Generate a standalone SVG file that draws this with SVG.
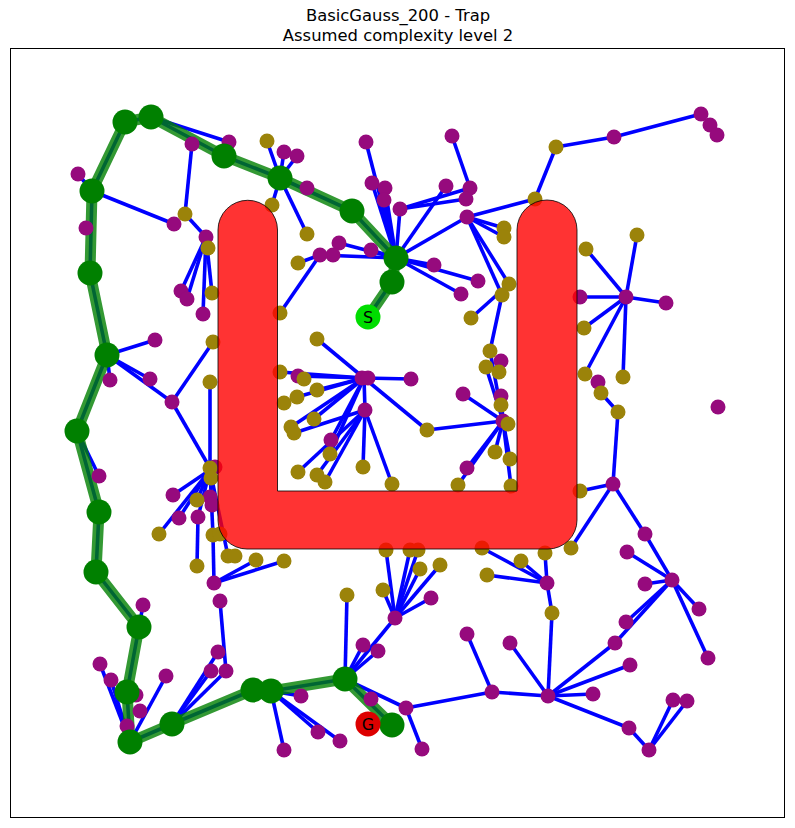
<svg xmlns="http://www.w3.org/2000/svg" width="795" height="828" viewBox="0 0 795 828">
<style>
.t{font-family:"DejaVu Sans",sans-serif;font-size:16.4px;text-anchor:middle;fill:#000}
.e line{stroke:#0000ff;stroke-width:3.6;stroke-linecap:butt}
.pb{fill:none;stroke:#0000ff;stroke-width:3.6;stroke-linejoin:round}
.pg{fill:none;stroke:#008000;stroke-opacity:0.8;stroke-width:11;stroke-linejoin:round;stroke-linecap:butt}
.p{fill:#960a7d}
.o{fill:#9b830a}
.g{fill:#008000}
.s{fill:#00dd00}
.gl{fill:#dd0000}
.lb{font-family:"DejaVu Sans",sans-serif;font-size:16px;text-anchor:middle;fill:#000}
.obs{fill:#ff0000;fill-opacity:0.8;stroke:#000;stroke-opacity:0.8;stroke-width:1}
</style>
<rect x="0" y="0" width="795" height="828" fill="#fff"/>
<text class="t" x="398" y="21">BasicGauss_200 - Trap</text>
<text class="t" x="398" y="41">Assumed complexity level 2</text>
<g id="connectors">
<g class="e">
<line x1="151" y1="117" x2="229" y2="142"/>
<line x1="192" y1="144" x2="185" y2="214"/>
<line x1="92" y1="191" x2="78" y2="174"/>
<line x1="92" y1="191" x2="174" y2="224"/>
<line x1="185" y1="214" x2="206" y2="237"/>
<line x1="206" y1="237" x2="181" y2="291"/>
<line x1="206" y1="237" x2="187" y2="299"/>
<line x1="206" y1="237" x2="212" y2="293"/>
<line x1="206" y1="237" x2="203" y2="314"/>
<line x1="280" y1="178" x2="267" y2="141"/>
<line x1="280" y1="178" x2="284" y2="152"/>
<line x1="280" y1="178" x2="297" y2="156"/>
<line x1="280" y1="178" x2="272" y2="205"/>
<line x1="280" y1="178" x2="307" y2="234"/>
<line x1="396" y1="258" x2="366" y2="142"/>
<line x1="396" y1="258" x2="372" y2="183"/>
<line x1="396" y1="258" x2="385" y2="188"/>
<line x1="396" y1="258" x2="384" y2="200"/>
<line x1="396" y1="258" x2="400" y2="209"/>
<line x1="396" y1="258" x2="446" y2="186"/>
<line x1="396" y1="258" x2="467" y2="217"/>
<line x1="396" y1="258" x2="434" y2="265"/>
<line x1="396" y1="258" x2="478" y2="281"/>
<line x1="396" y1="258" x2="461" y2="294"/>
<line x1="396" y1="258" x2="371" y2="250"/>
<line x1="396" y1="258" x2="339" y2="243"/>
<line x1="396" y1="258" x2="320" y2="255"/>
<line x1="320" y1="255" x2="298" y2="263"/>
<line x1="320" y1="255" x2="280" y2="313"/>
<line x1="452" y1="136" x2="470" y2="188"/>
<line x1="400" y1="209" x2="470" y2="188"/>
<line x1="400" y1="209" x2="466" y2="199"/>
<line x1="467" y1="217" x2="535" y2="199"/>
<line x1="467" y1="217" x2="504" y2="228"/>
<line x1="467" y1="217" x2="504" y2="237"/>
<line x1="467" y1="217" x2="509" y2="284"/>
<line x1="467" y1="217" x2="502" y2="295"/>
<line x1="535" y1="199" x2="556" y2="147"/>
<line x1="556" y1="147" x2="614" y2="137"/>
<line x1="614" y1="137" x2="701" y2="114"/>
<line x1="626" y1="297" x2="586" y2="249"/>
<line x1="626" y1="297" x2="637" y2="235"/>
<line x1="626" y1="297" x2="580" y2="297"/>
<line x1="626" y1="297" x2="666" y2="303"/>
<line x1="626" y1="297" x2="584" y2="328"/>
<line x1="626" y1="297" x2="585" y2="374"/>
<line x1="626" y1="297" x2="623" y2="377"/>
<line x1="601" y1="393" x2="618" y2="412"/>
<line x1="618" y1="412" x2="613" y2="484"/>
<line x1="613" y1="484" x2="580" y2="491"/>
<line x1="613" y1="484" x2="571" y2="548"/>
<line x1="613" y1="484" x2="645" y2="534"/>
<line x1="645" y1="534" x2="672" y2="580"/>
<line x1="627" y1="552" x2="672" y2="580"/>
<line x1="107" y1="355" x2="155" y2="340"/>
<line x1="107" y1="355" x2="110" y2="380"/>
<line x1="107" y1="355" x2="150" y2="379"/>
<line x1="107" y1="355" x2="172" y2="402"/>
<line x1="172" y1="402" x2="213" y2="342"/>
<line x1="172" y1="402" x2="210" y2="468"/>
<line x1="210" y1="382" x2="210" y2="468"/>
<line x1="77" y1="431" x2="99" y2="476"/>
<line x1="210" y1="470" x2="173" y2="495"/>
<line x1="210" y1="470" x2="179" y2="518"/>
<line x1="210" y1="470" x2="159" y2="534"/>
<line x1="210" y1="470" x2="197" y2="500"/>
<line x1="210" y1="470" x2="198" y2="517"/>
<line x1="210" y1="470" x2="213" y2="535"/>
<line x1="210" y1="470" x2="228" y2="556"/>
<line x1="198" y1="517" x2="197" y2="566"/>
<line x1="214" y1="583" x2="213" y2="535"/>
<line x1="214" y1="583" x2="256" y2="560"/>
<line x1="214" y1="583" x2="284" y2="561"/>
<line x1="364" y1="378" x2="317" y2="339"/>
<line x1="364" y1="378" x2="411" y2="379"/>
<line x1="364" y1="378" x2="427" y2="430"/>
<line x1="364" y1="378" x2="280" y2="372"/>
<line x1="364" y1="378" x2="298" y2="376"/>
<line x1="364" y1="378" x2="317" y2="390"/>
<line x1="364" y1="378" x2="297" y2="397"/>
<line x1="364" y1="378" x2="365" y2="410"/>
<line x1="364" y1="378" x2="314" y2="419"/>
<line x1="364" y1="378" x2="291" y2="427"/>
<line x1="364" y1="378" x2="331" y2="440"/>
<line x1="364" y1="378" x2="330" y2="454"/>
<line x1="365" y1="410" x2="294" y2="433"/>
<line x1="365" y1="410" x2="298" y2="472"/>
<line x1="365" y1="410" x2="317" y2="475"/>
<line x1="365" y1="410" x2="325" y2="482"/>
<line x1="365" y1="410" x2="363" y2="467"/>
<line x1="365" y1="410" x2="392" y2="484"/>
<line x1="427" y1="430" x2="503" y2="421"/>
<line x1="503" y1="421" x2="463" y2="394"/>
<line x1="503" y1="421" x2="467" y2="468"/>
<line x1="503" y1="421" x2="458" y2="485"/>
<line x1="503" y1="421" x2="495" y2="452"/>
<line x1="503" y1="421" x2="510" y2="459"/>
<line x1="503" y1="421" x2="511" y2="486"/>
<line x1="503" y1="421" x2="490" y2="351"/>
<line x1="503" y1="421" x2="486" y2="367"/>
<line x1="503" y1="421" x2="501" y2="396"/>
<line x1="490" y1="351" x2="502" y2="295"/>
<line x1="471" y1="318" x2="509" y2="284"/>
<line x1="395" y1="618" x2="383" y2="590"/>
<line x1="395" y1="618" x2="386" y2="550"/>
<line x1="395" y1="618" x2="410" y2="550"/>
<line x1="395" y1="618" x2="418" y2="550"/>
<line x1="395" y1="618" x2="420" y2="569"/>
<line x1="395" y1="618" x2="440" y2="565"/>
<line x1="395" y1="618" x2="431" y2="598"/>
<line x1="395" y1="618" x2="345" y2="679"/>
<line x1="345" y1="679" x2="363" y2="645"/>
<line x1="345" y1="679" x2="378" y2="651"/>
<line x1="345" y1="679" x2="347" y2="595"/>
<line x1="345" y1="679" x2="406" y2="708"/>
<line x1="406" y1="708" x2="422" y2="749"/>
<line x1="406" y1="708" x2="492" y2="692"/>
<line x1="492" y1="692" x2="467" y2="634"/>
<line x1="492" y1="692" x2="548" y2="696"/>
<line x1="271" y1="691" x2="301" y2="696"/>
<line x1="271" y1="691" x2="318" y2="732"/>
<line x1="271" y1="691" x2="340" y2="741"/>
<line x1="271" y1="691" x2="284" y2="750"/>
<line x1="139" y1="627" x2="143" y2="605"/>
<line x1="220" y1="601" x2="226" y2="671"/>
<line x1="218" y1="652" x2="172" y2="724"/>
<line x1="211" y1="671" x2="172" y2="724"/>
<line x1="226" y1="671" x2="172" y2="724"/>
<line x1="100" y1="664" x2="130" y2="742"/>
<line x1="111" y1="680" x2="130" y2="742"/>
<line x1="166" y1="676" x2="130" y2="742"/>
<line x1="547" y1="583" x2="552" y2="613"/>
<line x1="552" y1="613" x2="548" y2="696"/>
<line x1="547" y1="583" x2="482" y2="548"/>
<line x1="547" y1="583" x2="487" y2="575"/>
<line x1="547" y1="583" x2="545" y2="553"/>
<line x1="547" y1="583" x2="521" y2="561"/>
<line x1="672" y1="580" x2="645" y2="584"/>
<line x1="672" y1="580" x2="699" y2="609"/>
<line x1="672" y1="580" x2="708" y2="658"/>
<line x1="672" y1="580" x2="626" y2="622"/>
<line x1="672" y1="580" x2="615" y2="643"/>
<line x1="615" y1="643" x2="548" y2="696"/>
<line x1="548" y1="696" x2="630" y2="665"/>
<line x1="548" y1="696" x2="593" y2="694"/>
<line x1="548" y1="696" x2="629" y2="728"/>
<line x1="548" y1="696" x2="510" y2="643"/>
<line x1="629" y1="728" x2="649" y2="750"/>
<line x1="649" y1="750" x2="673" y2="700"/>
<line x1="649" y1="750" x2="687" y2="701"/>
</g>
<polyline class="pb" points="368,317 392,282 396,258 352,211 280,178 224,156 151,117 125,122 92,191 90,273 107,355 77,431 99,512 96,572 139,627 127,692 130,742 172,724 253,690 271,691 345,679 392,725"/>
<polyline class="pg" points="368,317 392,282 396,258 352,211 280,178 224,156 151,117 125,122 92,191 90,273 107,355 77,431 99,512 96,572 139,627 127,692 130,742 172,724 253,690 271,691 345,679 392,725"/>
</g>
<g id="nodes">
<g id="p1"><circle class="p" cx="229" cy="142" r="7.5"/></g>
<g id="p2"><circle class="p" cx="192" cy="144" r="7.5"/></g>
<g id="p3"><circle class="p" cx="78" cy="174" r="7.5"/></g>
<g id="p4"><circle class="p" cx="174" cy="224" r="7.5"/></g>
<g id="p5"><circle class="p" cx="86" cy="228" r="7.5"/></g>
<g id="p6"><circle class="p" cx="206" cy="237" r="7.5"/></g>
<g id="p7"><circle class="p" cx="181" cy="291" r="7.5"/></g>
<g id="p8"><circle class="p" cx="187" cy="299" r="7.5"/></g>
<g id="p9"><circle class="p" cx="203" cy="314" r="7.5"/></g>
<g id="p10"><circle class="p" cx="284" cy="152" r="7.5"/></g>
<g id="p11"><circle class="p" cx="297" cy="156" r="7.5"/></g>
<g id="p12"><circle class="p" cx="307" cy="188" r="7.5"/></g>
<g id="p13"><circle class="p" cx="366" cy="142" r="7.5"/></g>
<g id="p14"><circle class="p" cx="452" cy="136" r="7.5"/></g>
<g id="p15"><circle class="p" cx="372" cy="183" r="7.5"/></g>
<g id="p16"><circle class="p" cx="385" cy="188" r="7.5"/></g>
<g id="p17"><circle class="p" cx="384" cy="200" r="7.5"/></g>
<g id="p18"><circle class="p" cx="400" cy="209" r="7.5"/></g>
<g id="p19"><circle class="p" cx="446" cy="186" r="7.5"/></g>
<g id="p20"><circle class="p" cx="470" cy="188" r="7.5"/></g>
<g id="p21"><circle class="p" cx="466" cy="199" r="7.5"/></g>
<g id="p22"><circle class="p" cx="467" cy="217" r="7.5"/></g>
<g id="p23"><circle class="p" cx="339" cy="243" r="7.5"/></g>
<g id="p24"><circle class="p" cx="333" cy="255" r="7.5"/></g>
<g id="p25"><circle class="p" cx="320" cy="255" r="7.5"/></g>
<g id="p26"><circle class="p" cx="371" cy="250" r="7.5"/></g>
<g id="p27"><circle class="p" cx="434" cy="265" r="7.5"/></g>
<g id="p28"><circle class="p" cx="478" cy="281" r="7.5"/></g>
<g id="p29"><circle class="p" cx="461" cy="294" r="7.5"/></g>
<g id="p30"><circle class="p" cx="614" cy="137" r="7.5"/></g>
<g id="p31"><circle class="p" cx="701" cy="114" r="7.5"/></g>
<g id="p32"><circle class="p" cx="710" cy="125" r="7.5"/></g>
<g id="p33"><circle class="p" cx="717" cy="135" r="7.5"/></g>
<g id="p34"><circle class="p" cx="626" cy="297" r="7.5"/></g>
<g id="p35"><circle class="p" cx="580" cy="297" r="7.5"/></g>
<g id="p36"><circle class="p" cx="666" cy="303" r="7.5"/></g>
<g id="p37"><circle class="p" cx="598" cy="382" r="7.5"/></g>
<g id="p38"><circle class="p" cx="718" cy="407" r="7.5"/></g>
<g id="p39"><circle class="p" cx="613" cy="484" r="7.5"/></g>
<g id="p40"><circle class="p" cx="645" cy="534" r="7.5"/></g>
<g id="p41"><circle class="p" cx="627" cy="552" r="7.5"/></g>
<g id="p42"><circle class="p" cx="155" cy="340" r="7.5"/></g>
<g id="p43"><circle class="p" cx="110" cy="380" r="7.5"/></g>
<g id="p44"><circle class="p" cx="150" cy="379" r="7.5"/></g>
<g id="p45"><circle class="p" cx="172" cy="402" r="7.5"/></g>
<g id="p46"><circle class="p" cx="99" cy="476" r="7.5"/></g>
<g id="p47"><circle class="p" cx="215" cy="467" r="7.5"/></g>
<g id="p48"><circle class="p" cx="173" cy="495" r="7.5"/></g>
<g id="p49"><circle class="p" cx="210" cy="497" r="7.5"/></g>
<g id="p50"><circle class="p" cx="212" cy="505" r="7.5"/></g>
<g id="p51"><circle class="p" cx="179" cy="518" r="7.5"/></g>
<g id="p52"><circle class="p" cx="198" cy="517" r="7.5"/></g>
<g id="p53"><circle class="p" cx="362" cy="378" r="7.5"/></g>
<g id="p54"><circle class="p" cx="368" cy="378" r="7.5"/></g>
<g id="p55"><circle class="p" cx="411" cy="379" r="7.5"/></g>
<g id="p56"><circle class="p" cx="298" cy="376" r="7.5"/></g>
<g id="p57"><circle class="p" cx="365" cy="410" r="7.5"/></g>
<g id="p58"><circle class="p" cx="331" cy="440" r="7.5"/></g>
<g id="p59"><circle class="p" cx="463" cy="394" r="7.5"/></g>
<g id="p60"><circle class="p" cx="501" cy="361" r="7.5"/></g>
<g id="p61"><circle class="p" cx="501" cy="396" r="7.5"/></g>
<g id="p62"><circle class="p" cx="503" cy="421" r="7.5"/></g>
<g id="p63"><circle class="p" cx="467" cy="468" r="7.5"/></g>
<g id="p64"><circle class="p" cx="214" cy="583" r="7.5"/></g>
<g id="p65"><circle class="p" cx="143" cy="605" r="7.5"/></g>
<g id="p66"><circle class="p" cx="220" cy="601" r="7.5"/></g>
<g id="p67"><circle class="p" cx="218" cy="652" r="7.5"/></g>
<g id="p68"><circle class="p" cx="100" cy="664" r="7.5"/></g>
<g id="p69"><circle class="p" cx="211" cy="671" r="7.5"/></g>
<g id="p70"><circle class="p" cx="226" cy="671" r="7.5"/></g>
<g id="p71"><circle class="p" cx="111" cy="680" r="7.5"/></g>
<g id="p72"><circle class="p" cx="166" cy="676" r="7.5"/></g>
<g id="p73"><circle class="p" cx="136" cy="695" r="7.5"/></g>
<g id="p74"><circle class="p" cx="140" cy="711" r="7.5"/></g>
<g id="p75"><circle class="p" cx="127" cy="726" r="7.5"/></g>
<g id="p76"><circle class="p" cx="395" cy="618" r="7.5"/></g>
<g id="p77"><circle class="p" cx="431" cy="598" r="7.5"/></g>
<g id="p78"><circle class="p" cx="363" cy="645" r="7.5"/></g>
<g id="p79"><circle class="p" cx="378" cy="651" r="7.5"/></g>
<g id="p80"><circle class="p" cx="301" cy="696" r="7.5"/></g>
<g id="p81"><circle class="p" cx="371" cy="699" r="7.5"/></g>
<g id="p82"><circle class="p" cx="406" cy="708" r="7.5"/></g>
<g id="p83"><circle class="p" cx="318" cy="732" r="7.5"/></g>
<g id="p84"><circle class="p" cx="340" cy="741" r="7.5"/></g>
<g id="p85"><circle class="p" cx="284" cy="750" r="7.5"/></g>
<g id="p86"><circle class="p" cx="422" cy="749" r="7.5"/></g>
<g id="p87"><circle class="p" cx="467" cy="634" r="7.5"/></g>
<g id="p88"><circle class="p" cx="510" cy="643" r="7.5"/></g>
<g id="p89"><circle class="p" cx="492" cy="692" r="7.5"/></g>
<g id="p90"><circle class="p" cx="547" cy="583" r="7.5"/></g>
<g id="p91"><circle class="p" cx="672" cy="580" r="7.5"/></g>
<g id="p92"><circle class="p" cx="645" cy="584" r="7.5"/></g>
<g id="p93"><circle class="p" cx="699" cy="609" r="7.5"/></g>
<g id="p94"><circle class="p" cx="626" cy="622" r="7.5"/></g>
<g id="p95"><circle class="p" cx="615" cy="643" r="7.5"/></g>
<g id="p96"><circle class="p" cx="708" cy="658" r="7.5"/></g>
<g id="p97"><circle class="p" cx="630" cy="665" r="7.5"/></g>
<g id="p98"><circle class="p" cx="548" cy="696" r="7.5"/></g>
<g id="p99"><circle class="p" cx="593" cy="694" r="7.5"/></g>
<g id="p100"><circle class="p" cx="629" cy="728" r="7.5"/></g>
<g id="p101"><circle class="p" cx="649" cy="750" r="7.5"/></g>
<g id="p102"><circle class="p" cx="673" cy="700" r="7.5"/></g>
<g id="p103"><circle class="p" cx="687" cy="701" r="7.5"/></g>
<g id="o1"><circle class="o" cx="267" cy="141" r="7.5"/></g>
<g id="o2"><circle class="o" cx="272" cy="205" r="7.5"/></g>
<g id="o3"><circle class="o" cx="185" cy="214" r="7.5"/></g>
<g id="o4"><circle class="o" cx="208" cy="248" r="7.5"/></g>
<g id="o5"><circle class="o" cx="212" cy="293" r="7.5"/></g>
<g id="o6"><circle class="o" cx="307" cy="234" r="7.5"/></g>
<g id="o7"><circle class="o" cx="298" cy="263" r="7.5"/></g>
<g id="o8"><circle class="o" cx="280" cy="313" r="7.5"/></g>
<g id="o9"><circle class="o" cx="556" cy="147" r="7.5"/></g>
<g id="o10"><circle class="o" cx="535" cy="199" r="7.5"/></g>
<g id="o11"><circle class="o" cx="504" cy="228" r="7.5"/></g>
<g id="o12"><circle class="o" cx="504" cy="237" r="7.5"/></g>
<g id="o13"><circle class="o" cx="509" cy="284" r="7.5"/></g>
<g id="o14"><circle class="o" cx="502" cy="295" r="7.5"/></g>
<g id="o15"><circle class="o" cx="586" cy="249" r="7.5"/></g>
<g id="o16"><circle class="o" cx="637" cy="235" r="7.5"/></g>
<g id="o17"><circle class="o" cx="584" cy="328" r="7.5"/></g>
<g id="o18"><circle class="o" cx="585" cy="374" r="7.5"/></g>
<g id="o19"><circle class="o" cx="623" cy="377" r="7.5"/></g>
<g id="o20"><circle class="o" cx="601" cy="393" r="7.5"/></g>
<g id="o21"><circle class="o" cx="618" cy="412" r="7.5"/></g>
<g id="o22"><circle class="o" cx="580" cy="491" r="7.5"/></g>
<g id="o23"><circle class="o" cx="571" cy="548" r="7.5"/></g>
<g id="o24"><circle class="o" cx="545" cy="553" r="7.5"/></g>
<g id="o25"><circle class="o" cx="213" cy="342" r="7.5"/></g>
<g id="o26"><circle class="o" cx="210" cy="382" r="7.5"/></g>
<g id="o27"><circle class="o" cx="210" cy="468" r="7.5"/></g>
<g id="o28"><circle class="o" cx="211" cy="478" r="7.5"/></g>
<g id="o29"><circle class="o" cx="197" cy="500" r="7.5"/></g>
<g id="o30"><circle class="o" cx="159" cy="534" r="7.5"/></g>
<g id="o31"><circle class="o" cx="213" cy="535" r="7.5"/></g>
<g id="o32"><circle class="o" cx="220" cy="534" r="7.5"/></g>
<g id="o33"><circle class="o" cx="228" cy="556" r="7.5"/></g>
<g id="o34"><circle class="o" cx="235" cy="556" r="7.5"/></g>
<g id="o35"><circle class="o" cx="256" cy="560" r="7.5"/></g>
<g id="o36"><circle class="o" cx="284" cy="561" r="7.5"/></g>
<g id="o37"><circle class="o" cx="197" cy="566" r="7.5"/></g>
<g id="o38"><circle class="o" cx="317" cy="339" r="7.5"/></g>
<g id="o39"><circle class="o" cx="280" cy="372" r="7.5"/></g>
<g id="o40"><circle class="o" cx="304" cy="379" r="7.5"/></g>
<g id="o41"><circle class="o" cx="317" cy="390" r="7.5"/></g>
<g id="o42"><circle class="o" cx="297" cy="397" r="7.5"/></g>
<g id="o43"><circle class="o" cx="284" cy="403" r="7.5"/></g>
<g id="o44"><circle class="o" cx="314" cy="419" r="7.5"/></g>
<g id="o45"><circle class="o" cx="291" cy="427" r="7.5"/></g>
<g id="o46"><circle class="o" cx="294" cy="433" r="7.5"/></g>
<g id="o47"><circle class="o" cx="427" cy="430" r="7.5"/></g>
<g id="o48"><circle class="o" cx="330" cy="454" r="7.5"/></g>
<g id="o49"><circle class="o" cx="298" cy="472" r="7.5"/></g>
<g id="o50"><circle class="o" cx="317" cy="475" r="7.5"/></g>
<g id="o51"><circle class="o" cx="325" cy="482" r="7.5"/></g>
<g id="o52"><circle class="o" cx="363" cy="467" r="7.5"/></g>
<g id="o53"><circle class="o" cx="392" cy="484" r="7.5"/></g>
<g id="o54"><circle class="o" cx="471" cy="318" r="7.5"/></g>
<g id="o55"><circle class="o" cx="490" cy="351" r="7.5"/></g>
<g id="o56"><circle class="o" cx="486" cy="367" r="7.5"/></g>
<g id="o57"><circle class="o" cx="499" cy="372" r="7.5"/></g>
<g id="o58"><circle class="o" cx="501" cy="405" r="7.5"/></g>
<g id="o59"><circle class="o" cx="508" cy="424" r="7.5"/></g>
<g id="o60"><circle class="o" cx="495" cy="452" r="7.5"/></g>
<g id="o61"><circle class="o" cx="510" cy="459" r="7.5"/></g>
<g id="o62"><circle class="o" cx="458" cy="485" r="7.5"/></g>
<g id="o63"><circle class="o" cx="511" cy="486" r="7.5"/></g>
<g id="o64"><circle class="o" cx="386" cy="550" r="7.5"/></g>
<g id="o65"><circle class="o" cx="410" cy="550" r="7.5"/></g>
<g id="o66"><circle class="o" cx="418" cy="550" r="7.5"/></g>
<g id="o67"><circle class="o" cx="482" cy="548" r="7.5"/></g>
<g id="o68"><circle class="o" cx="521" cy="561" r="7.5"/></g>
<g id="o69"><circle class="o" cx="347" cy="595" r="7.5"/></g>
<g id="o70"><circle class="o" cx="383" cy="590" r="7.5"/></g>
<g id="o71"><circle class="o" cx="420" cy="569" r="7.5"/></g>
<g id="o72"><circle class="o" cx="440" cy="565" r="7.5"/></g>
<g id="o73"><circle class="o" cx="487" cy="575" r="7.5"/></g>
<g id="o74"><circle class="o" cx="552" cy="613" r="7.5"/></g>
<g id="g1"><circle class="g" cx="125" cy="122" r="12.5"/></g>
<g id="g2"><circle class="g" cx="151" cy="117" r="12.5"/></g>
<g id="g3"><circle class="g" cx="224" cy="156" r="12.5"/></g>
<g id="g4"><circle class="g" cx="280" cy="178" r="12.5"/></g>
<g id="g5"><circle class="g" cx="352" cy="211" r="12.5"/></g>
<g id="g6"><circle class="g" cx="396" cy="258" r="12.5"/></g>
<g id="g7"><circle class="g" cx="392" cy="282" r="12.5"/></g>
<g id="g8"><circle class="g" cx="92" cy="191" r="12.5"/></g>
<g id="g9"><circle class="g" cx="90" cy="273" r="12.5"/></g>
<g id="g10"><circle class="g" cx="107" cy="355" r="12.5"/></g>
<g id="g11"><circle class="g" cx="77" cy="431" r="12.5"/></g>
<g id="g12"><circle class="g" cx="99" cy="512" r="12.5"/></g>
<g id="g13"><circle class="g" cx="96" cy="572" r="12.5"/></g>
<g id="g14"><circle class="g" cx="139" cy="627" r="12.5"/></g>
<g id="g15"><circle class="g" cx="127" cy="692" r="12.5"/></g>
<g id="g16"><circle class="g" cx="130" cy="742" r="12.5"/></g>
<g id="g17"><circle class="g" cx="172" cy="724" r="12.5"/></g>
<g id="g18"><circle class="g" cx="253" cy="690" r="12.5"/></g>
<g id="g19"><circle class="g" cx="271" cy="691" r="12.5"/></g>
<g id="g20"><circle class="g" cx="345" cy="679" r="12.5"/></g>
<g id="g21"><circle class="g" cx="392" cy="725" r="12.5"/></g>
<g id="start"><circle class="s" cx="368" cy="317" r="12.5"/><text class="lb" x="368" y="323">S</text></g>
<g id="goal"><circle class="gl" cx="368" cy="724" r="12.5"/><text class="lb" x="368" y="730">G</text></g>
</g>
<path id="obstacle" class="obs" d="M218 230 A29.75 29.75 0 0 1 277.5 230 L277.5 491 L517 491 L517 230 A30 30 0 0 1 577 230 L577 520 A29 29 0 0 1 548 549 L247 549 A29 29 0 0 1 218 520 Z"/>
<rect x="10.5" y="48.5" width="774" height="769" fill="none" stroke="#000" stroke-width="1"/>
</svg>
